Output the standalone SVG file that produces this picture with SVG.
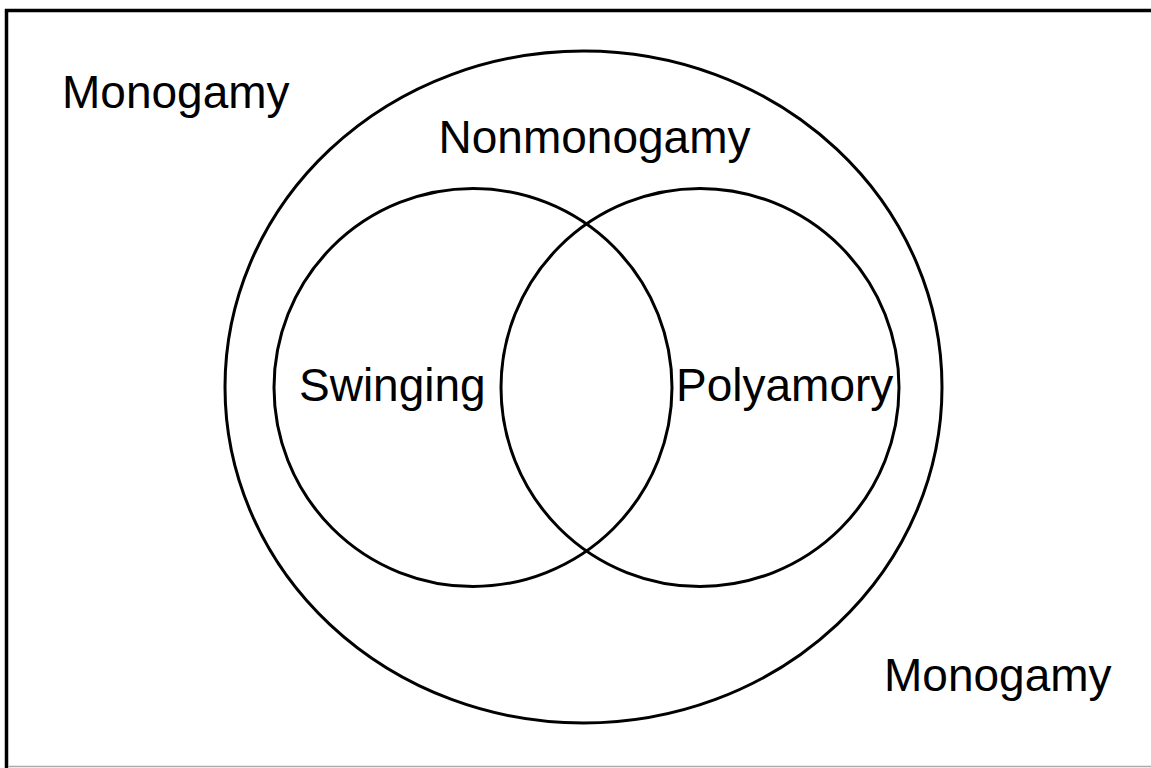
<svg xmlns="http://www.w3.org/2000/svg" width="1151" height="768" viewBox="0 0 1151 768">
<style>
.c{fill:none;stroke:#000;stroke-width:3}
.t{font-family:"Liberation Sans",Arial,sans-serif;font-size:46px;fill:#000}
</style>
<rect x="0" y="0" width="1151" height="768" fill="#fff"/>
<g id="frame">
<line x1="5" y1="10.5" x2="1151" y2="10.5" stroke="#000" stroke-width="3.5"/>
<line x1="6.5" y1="9" x2="6.5" y2="768" stroke="#000" stroke-width="3.5"/>
<line x1="8" y1="766.5" x2="1151" y2="766.5" stroke="#aaa" stroke-width="1.5"/>
</g>
<g id="nonmonogamy">
<ellipse class="c" cx="583.5" cy="387" rx="358.5" ry="336"/>
<text class="t" x="594.5" y="153" text-anchor="middle">Nonmonogamy</text>
</g>
<g id="swinging">
<circle class="c" cx="473" cy="387.5" r="199"/>
<text class="t" x="299" y="401">Swinging</text>
</g>
<g id="polyamory">
<circle class="c" cx="700" cy="387.5" r="199"/>
<text class="t" x="676" y="401">Polyamory</text>
</g>
<g id="monogamy-top">
<text class="t" x="62" y="108">Monogamy</text>
</g>
<g id="monogamy-bottom">
<text class="t" x="884" y="691">Monogamy</text>
</g>
<g id="connectors"></g>
</svg>
